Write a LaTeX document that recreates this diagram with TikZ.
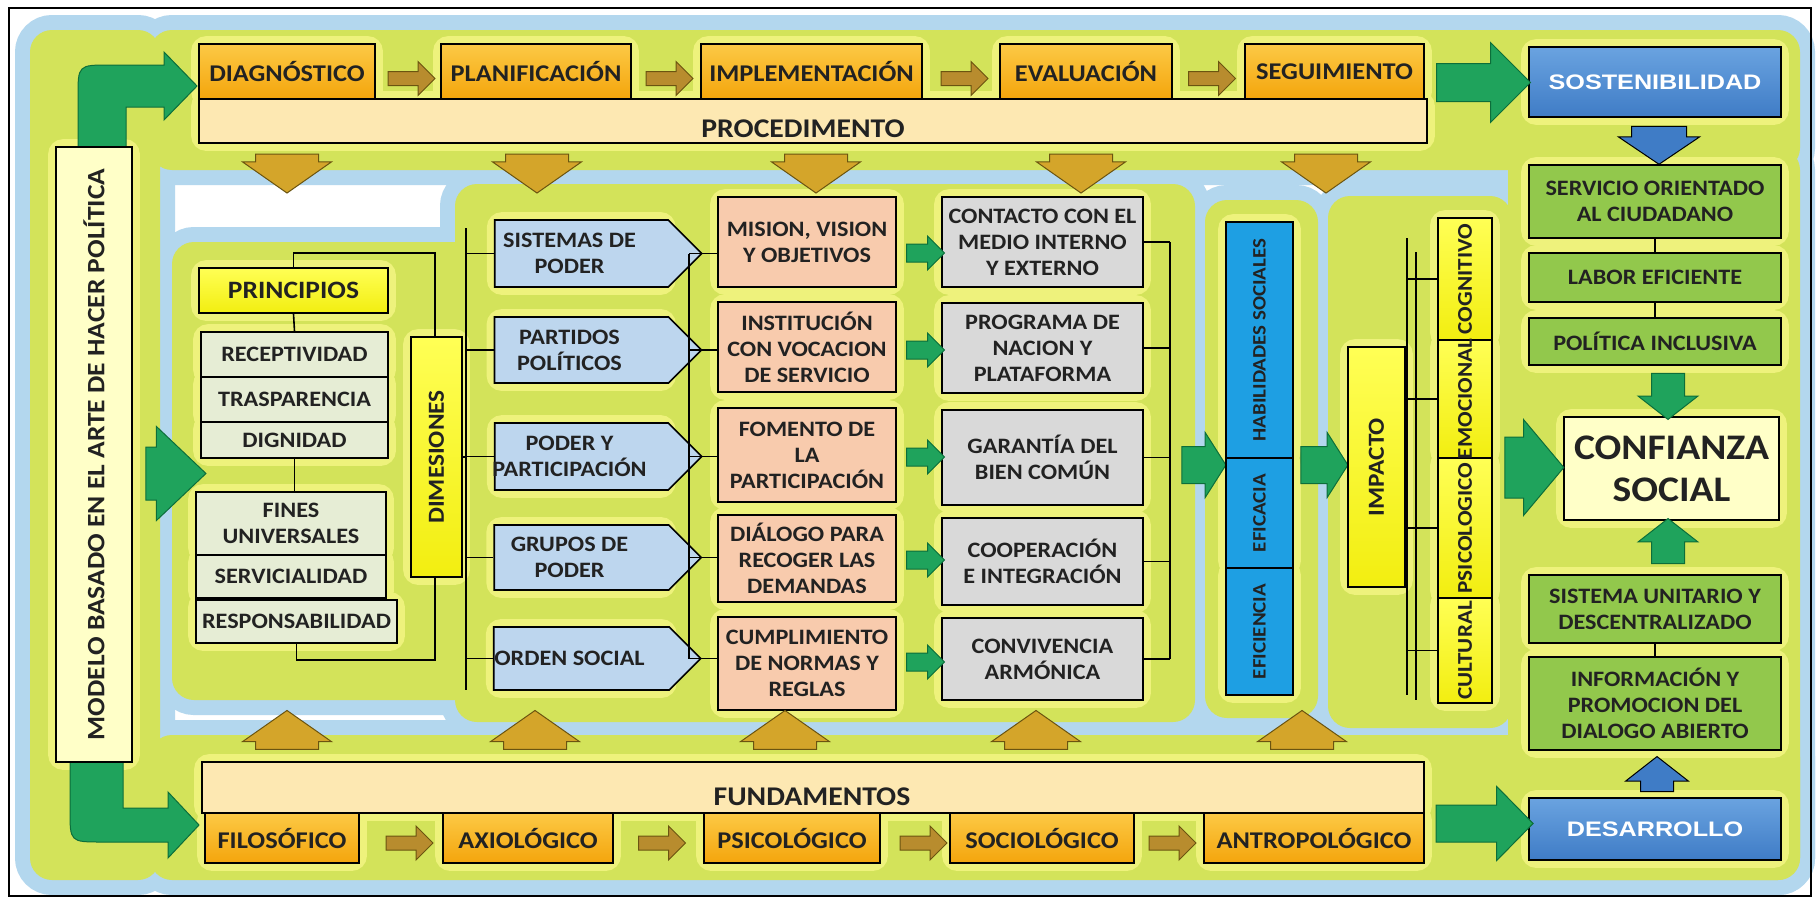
\documentclass[tikz,border=0pt]{standalone}
\usepackage{fontspec}
\setmainfont{Carlito}[FakeStretch=1.1]
\newfontfamily\widefont{Liberation Sans}[FakeStretch=1.2]
\usetikzlibrary{shapes.arrows,shapes.symbols,calc}
\definecolor{bgY}{HTML}{D3E35A}
\definecolor{haloB}{HTML}{B3D7EE}
\definecolor{glowY}{HTML}{EEF27C}
\definecolor{orgA}{HTML}{FCC945}
\definecolor{orgB}{HTML}{F4A50C}
\definecolor{procF}{HTML}{FDE8B2}
\definecolor{ltgreen}{HTML}{E6EDD5}
\definecolor{ltblue}{HTML}{BDD6EE}
\definecolor{salmon}{HTML}{F8CBAD}
\definecolor{grayb}{HTML}{D9D9D9}
\definecolor{brblue}{HTML}{1E9FE3}
\definecolor{yelA}{HTML}{FFFF55}
\definecolor{yel}{HTML}{F2EE10}
\definecolor{paleY}{HTML}{FFFFC8}
\definecolor{grn}{HTML}{92C84C}
\definecolor{dblueA}{HTML}{6AA3E0}
\definecolor{dblue}{HTML}{3F7CC6}
\definecolor{garrow}{HTML}{1FA35C}
\definecolor{garrowD}{HTML}{0C6E3A}
\definecolor{gold}{HTML}{D4A52A}
\definecolor{goldD}{HTML}{6B5410}
\definecolor{brownA}{HTML}{B88C2E}
\definecolor{txt}{HTML}{222222}
\pgfdeclarelayer{bg}
\pgfdeclarelayer{glow}
\pgfsetlayers{bg,glow,main}
\begin{document}
\begin{tikzpicture}[x=1pt,y=-1pt,
 every node/.style={text=txt},
 bx/.style={draw=black, line width=1.6pt, inner sep=0pt, align=center, font=\bfseries\fontsize{22}{26}\selectfont},
 topbx/.style={bx, top color=orgA, bottom color=orgB, font=\bfseries\fontsize{24}{28}\selectfont},
 barbx/.style={bx, fill=procF},
 pbx/.style={bx, fill=ltgreen},
 ybx/.style={bx, top color=yelA, bottom color=yel},
 pent/.style={bx, signal, signal to=east, signal pointer angle=90, fill=ltblue},
 salbx/.style={bx, fill=salmon},
 grbx/.style={bx, fill=grayb},
 bbx/.style={bx, fill=brblue},
 gbx/.style={bx, fill=grn},
 dbx/.style={bx, top color=dblueA, bottom color=dblue, text=white, font=\widefont\bfseries\fontsize{21}{24}\selectfont},
 vtext/.style={rotate=90, font=\bfseries\fontsize{21}{24}\selectfont, inner sep=0pt},
 ptext/.style={align=center, inner sep=0pt, font=\bfseries\fontsize{22}{26}\selectfont},
 blk/.style={single arrow, inner sep=0pt, line width=1pt},
 brarr/.style={blk, fill=brownA, draw=goldD, minimum height=47pt, inner ysep=6.5pt, single arrow head extend=10pt},
 goldarr/.style={blk, fill=gold, draw=goldD, minimum height=39pt, inner ysep=31pt, single arrow head extend=13pt, single arrow tip angle=110},
 grarr/.style={blk, fill=garrow, draw=garrowD},
 con/.style={draw=black, line width=1.6pt}
]
\useasboundingbox (0,0) rectangle (1818,902);
% ---------- background glow regions
\begin{pgfonlayer}{bg}
\fill[white] (0,0) rectangle (1818,902);
\foreach \a/\b/\c/\d in {150/30/1800/170, 30/30/160/880, 150/735/1800/880, 172/242/485/700, 455/184/1195/722, 1205/200/1318/718, 1328/196/1512/728, 1508/148/1800/880}
  \draw[haloB, line width=30pt, rounded corners=22pt] (\a,\b) rectangle (\c,\d);
\foreach \a/\b/\c/\d in {150/30/1800/170, 30/30/160/880, 150/735/1800/880, 172/242/485/700, 455/184/1195/722, 1205/200/1318/718, 1328/196/1512/728, 1508/148/1800/880}
  \fill[bgY, rounded corners=22pt] (\a,\b) rectangle (\c,\d);
\end{pgfonlayer}
% ---------- L-shaped green arrows
\filldraw[fill=garrow, draw=garrowD, line width=1pt] (78,150) -- (78,97) .. controls (78,65) .. (110,65) -- (164,65) -- (164,52) -- (197,86) -- (164,120) -- (164,107) -- (126,107) -- (126,150) -- cycle;
\filldraw[fill=garrow, draw=garrowD, line width=1pt] (70,760) -- (70,810) .. controls (70,842) .. (102,842) -- (168,842) -- (168,858) -- (199,825) -- (168,792) -- (168,808) -- (123,808) -- (123,760) -- cycle;
% ---------- top row
\node[barbx, minimum width=1228pt, minimum height=44pt] (proc) at (813,121) {};
\node[font=\bfseries\fontsize{27}{30}\selectfont, inner sep=0pt] (proct) at (803,129) {PROCEDIMENTO};
\node[topbx, minimum width=176pt, minimum height=55pt] (diag) at (287,71.5) {DIAGNÓSTICO};
\node[topbx, minimum width=190pt, minimum height=55pt] (plan) at (536,71.5) {PLANIFICACIÓN};
\node[topbx, minimum width=221pt, minimum height=55pt] (impl) at (811.5,71.5) {IMPLEMENTACIÓN};
\node[topbx, minimum width=172pt, minimum height=55pt] (eval) at (1086,71.5) {EVALUACIÓN};
\node[topbx, minimum width=179pt, minimum height=55pt] (segu) at (1334.5,71.5) {SEGUIMIENTO};
\node[brarr] at ($(diag.east)!.5!(plan.west)+(0,7)$) {};
\node[brarr] at ($(plan.east)!.5!(impl.west)+(0,7)$) {};
\node[brarr] at ($(impl.east)!.5!(eval.west)+(0,7)$) {};
\node[brarr] at ($(eval.east)!.5!(segu.west)+(0,7)$) {};
\foreach \x in {287,537,816,1081,1326}
  \node[goldarr, rotate=-90] at (\x,162.5) {};
% ---------- right column
\node[dbx, minimum width=252pt, minimum height=70pt] (sost) at (1655,82) {SOSTENIBILIDAD};
\node[grarr, minimum height=94pt, inner ysep=18.5pt, single arrow head extend=21pt] at (1474,82.5) {};
\node[blk, fill=dblue, draw=black, rotate=-90, minimum height=38pt, inner ysep=27pt, single arrow head extend=13pt, single arrow tip angle=112] at (1659,136) {};
\node[gbx, minimum width=252pt, minimum height=73pt] (serv) at (1655,201.5) {SERVICIO ORIENTADO\\AL CIUDADANO};
\node[gbx, minimum width=252pt, minimum height=49pt] (labor) at (1655,277.5) {LABOR EFICIENTE};
\node[gbx, minimum width=252pt, minimum height=47pt] (polit) at (1655,341.5) {POLÍTICA INCLUSIVA};
\node[bx, fill=paleY, minimum width=215pt, minimum height=103pt, font=\bfseries\fontsize{36}{42}\selectfont] (conf) at (1671.5,468.5) {CONFIANZA\\SOCIAL};
\node[gbx, minimum width=252pt, minimum height=68pt] (sist) at (1655,609) {SISTEMA UNITARIO Y\\DESCENTRALIZADO};
\node[gbx, minimum width=252pt, minimum height=93pt] (info) at (1655,703.5) {INFORMACIÓN Y\\PROMOCION DEL\\DIALOGO ABIERTO};
\node[dbx, minimum width=252pt, minimum height=62pt] (des) at (1655,829) {DESARROLLO};
\draw[con] (serv.south) -- (labor.north);
\draw[con] (labor.south) -- (polit.north);
\draw[con] (sist.south) -- (info.north);
\node[grarr, rotate=-90, minimum height=46pt, inner ysep=16pt, single arrow head extend=13.5pt, single arrow tip angle=104] at (1668,390) {};
\node[grarr, rotate=90, minimum height=45pt, inner ysep=16pt, single arrow head extend=13.5pt, single arrow tip angle=104] at (1668,547.5) {};
\node[blk, fill=dblue, draw=black, rotate=90, minimum height=35pt, inner ysep=16pt, single arrow head extend=15pt, single arrow tip angle=104] at (1657,780.5) {};
% ---------- left model box
\node[bx, fill=paleY, minimum width=76pt, minimum height=615pt] (modelo) at (94,454.5) {};
\node[vtext, font=\bfseries\fontsize{25}{28}\selectfont] at (modelo) {MODELO BASADO EN EL ARTE DE HACER POLÍTICA};
\node[grarr, minimum height=60pt, inner ysep=26pt, single arrow head extend=20.5pt, single arrow tip angle=87] at (162,473.5) {};
% ---------- principles
\node[ybx, minimum width=189pt, minimum height=45pt, font=\bfseries\fontsize{25}{28}\selectfont] (prin) at (293.5,290.5) {PRINCIPIOS};
\node[pbx, minimum width=187pt, minimum height=45pt] (recep) at (294.5,354.5) {RECEPTIVIDAD};
\node[pbx, minimum width=187pt, minimum height=45pt] (trasp) at (294.5,399.5) {TRASPARENCIA};
\node[pbx, minimum width=187pt, minimum height=36pt] (dign) at (294.5,440) {DIGNIDAD};
\node[pbx, minimum width=190pt, minimum height=63pt] (fines) at (291,523.5) {FINES\\UNIVERSALES};
\node[pbx, minimum width=190pt, minimum height=43pt] (servi) at (291,576.5) {SERVICIALIDAD};
\node[pbx, minimum width=201pt, minimum height=43pt] (resp) at (296.5,621.5) {RESPONSABILIDAD};
\node[ybx, minimum width=51pt, minimum height=240pt] (dim) at (436.5,457) {};
\node[vtext, font=\bfseries\fontsize{23}{26}\selectfont] at (dim) {DIMESIONES};
\coordinate (bt) at (435,253);
\coordinate (bb) at (435,660);
\draw[con] (prin.north) |- (bt) -- (bt |- dim.north);
\draw[con] (resp.south) |- (bb) -- (bb |- dim.south);
\draw[con] (prin.south) -- (recep.north);
\draw[con] (dign.south) -- (dign.south |- fines.north);
% ---------- pentagons
\coordinate (b1) at (466,228);
\coordinate (b1e) at (466,690);
\draw[con] (b1) -- (b1e);
\draw[con] (dim.east) -- (b1 |- dim.east);
\foreach \n/\y/\h/\t in {p1/253.5/67/{SISTEMAS DE\\PODER}, p2/350/66/{PARTIDOS\\POLÍTICOS}, p3/456.5/67/{PODER Y\\PARTICIPACIÓN}, p4/557.5/65/{GRUPOS DE\\PODER}, p5/658.5/63/{ORDEN SOCIAL}}{
  \node[pent, minimum width=207pt, minimum height=\h pt] (\n) at (581.5,\y) {};
  \node[ptext] at ($(\n.center)+(-12,0)$) {\t};
  \draw[con] (b1 |- \n.west) -- (\n.west);
}
\coordinate (b2) at (689,253.5);
\draw[con] (b2) -- (689,658.5);
% ---------- salmon boxes
\foreach \n/\y/\h/\t in {s1/242/90/{MISION, VISION\\Y OBJETIVOS}, s2/347/90/{INSTITUCIÓN\\CON VOCACION\\DE SERVICIO}, s3/455/94/{FOMENTO DE\\LA\\PARTICIPACIÓN}, s4/558.5/87/{DIÁLOGO PARA\\RECOGER LAS\\DEMANDAS}, s5/663.5/93/{CUMPLIMIENTO\\DE NORMAS Y\\REGLAS}}
  \node[salbx, minimum width=178pt, minimum height=\h pt] (\n) at (807,\y) {\t};
\foreach \p/\s in {p1/s1,p2/s2,p3/s3,p4/s4,p5/s5}
  \draw[con] (b2 |- \p.east) -- (\p.east -| \s.west);
% ---------- gray boxes
\foreach \n/\y/\h/\t in {g1/242/90/{CONTACTO CON EL\\MEDIO INTERNO\\Y EXTERNO}, g2/348/90/{PROGRAMA DE\\NACION Y\\PLATAFORMA}, g3/457.5/95/{GARANTÍA DEL\\BIEN COMÚN}, g4/561.5/87/{COOPERACIÓN\\E INTEGRACIÓN}, g5/659/82/{CONVIVENCIA\\ARMÓNICA}}
  \node[grbx, minimum width=201pt, minimum height=\h pt] (\n) at (1042.5,\y) {\t};
\foreach \y in {253,350,457,560,662}
  \node[grarr, minimum height=38pt, inner ysep=8.5pt, single arrow head extend=8pt] at (921,\y) {};
\coordinate (b3) at (1170,242);
\draw[con] (b3) -- (1170,659);
\foreach \g in {g1,g2,g3,g4,g5}
  \draw[con] (\g.east) -- (\g.east -| b3);
\node[grarr, minimum height=44pt, inner ysep=18pt, single arrow head extend=14pt, single arrow tip angle=115] at (1198,465) {};
% ---------- blue column
\node[bbx, minimum width=67pt, minimum height=236pt] (hab) at (1259.5,340) {};
\node[bbx, minimum width=67pt, minimum height=110pt] (efa) at (1259.5,513) {};
\node[bbx, minimum width=67pt, minimum height=127pt] (efi) at (1259.5,631.5) {};
\node[vtext, font=\bfseries\fontsize{19}{22}\selectfont] at (hab) {HABILIDADES SOCIALES};
\node[vtext, font=\bfseries\fontsize{19}{22}\selectfont] at (efa) {EFICACIA};
\node[vtext, font=\bfseries\fontsize{19}{22}\selectfont] at (efi) {EFICIENCIA};
\node[grarr, minimum height=47pt, inner ysep=18pt, single arrow head extend=14pt, single arrow tip angle=115] at (1318.5,465) {};
% ---------- impact
\node[ybx, minimum width=57pt, minimum height=240pt] (imp) at (1376.5,467) {};
\node[vtext, font=\bfseries\fontsize{23}{26}\selectfont] at (imp) {IMPACTO};
\node[ybx, minimum width=54pt, minimum height=122pt] (cog) at (1465,279) {};
\node[ybx, minimum width=54pt, minimum height=118pt] (emo) at (1465,399) {};
\node[ybx, minimum width=54pt, minimum height=140pt] (psi) at (1465,528) {};
\node[ybx, minimum width=54pt, minimum height=105pt] (cul) at (1465,650.5) {};
\node[vtext] at (cog) {COGNITIVO};
\node[vtext] at (emo) {EMOCIONAL};
\node[vtext] at (psi) {PSICOLOGICO};
\node[vtext] at (cul) {CULTURAL};
\coordinate (b4) at (1407,238);
\draw[con] (b4) -- (1407,695);
\draw[con] (1416,252) -- (1416,700);
\foreach \c in {cog,emo,psi,cul}
  \draw[con] (b4 |- \c.west) -- (\c.west);
\node[grarr, minimum height=59pt, inner ysep=30pt, single arrow head extend=17.5pt, single arrow tip angle=100] at (1521.5,467.5) {};
% ---------- bottom row
\node[barbx, minimum width=1222pt, minimum height=51pt] (fund) at (813,787.5) {};
\node[font=\bfseries\fontsize{27}{30}\selectfont, inner sep=0pt] (fundt) at (812,797) {FUNDAMENTOS};
\node[topbx, minimum width=154pt, minimum height=50pt] (fil) at (282,838) {FILOSÓFICO};
\node[topbx, minimum width=170pt, minimum height=50pt] (axi) at (528,838) {AXIOLÓGICO};
\node[topbx, minimum width=176pt, minimum height=50pt] (psib) at (792,838) {PSICOLÓGICO};
\node[topbx, minimum width=184pt, minimum height=50pt] (soc) at (1042,838) {SOCIOLÓGICO};
\node[topbx, minimum width=220pt, minimum height=50pt] (ant) at (1314,838) {ANTROPOLÓGICO};
\node[brarr] at ($(fil.east)!.5!(axi.west)+(5,5)$) {};
\node[brarr] at ($(axi.east)!.5!(psib.west)+(0,5)$) {};
\node[brarr] at ($(psib.east)!.5!(soc.west)+(5,5)$) {};
\node[brarr] at ($(soc.east)!.5!(ant.west)+(0,5)$) {};
\foreach \x in {287,535,785,1036,1302}
  \node[goldarr, rotate=90] at (\x,741) {};
\node[grarr, minimum height=97pt, inner ysep=18pt, single arrow head extend=18.5pt, single arrow tip angle=91] at (1475.5,823.5) {};
% ---------- glows behind boxes
\begin{pgfonlayer}{glow}
\foreach \n in {diag,plan,impl,eval,segu,proc,sost,serv,labor,polit,conf,sist,info,des,modelo,prin,recep,trasp,dign,fines,servi,resp,dim,p1,p2,p3,p4,p5,s1,s2,s3,s4,s5,g1,g2,g3,g4,g5,hab,efa,efi,imp,cog,emo,psi,cul,fund,fil,axi,psib,soc,ant}
  \draw[glowY, line width=14pt, rounded corners=8pt] (\n.south west) rectangle (\n.north east);
\end{pgfonlayer}
\draw[black, line width=2pt] (9,8) rectangle (1811,896);
\end{tikzpicture}
\end{document}
